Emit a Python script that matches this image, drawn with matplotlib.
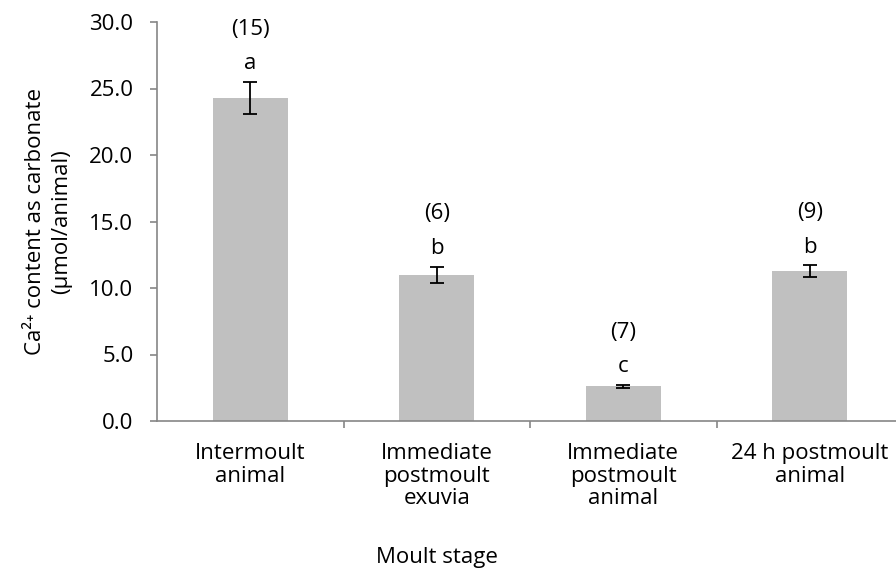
import matplotlib
matplotlib.use('Agg')
from matplotlib import pyplot as plt
import numpy as np

plt.rcParams['font.family'] = ['Open Sans', 'DejaVu Sans']

# Data
stages = ['Intermoult\nanimal', 'Immediate\npostmoult\nexuvia',
          'Immediate\npostmoult\nanimal', '24 h postmoult\nanimal']
means = [24.3, 11.0, 2.6, 11.25]
errors = [1.2, 0.6, 0.12, 0.45]
letters = ['a', 'b', 'c', 'b']
counts = ['(15)', '(6)', '(7)', '(9)']

axis_col = '#868686'
fs = 16

fig = plt.figure(figsize=(8.96, 5.71), dpi=100)
ax = fig.add_axes([157/896, 150/571, 746/896, 399/571])

x = np.arange(len(stages))
ax.bar(x, means, width=0.4, color='#c0c0c0', zorder=2)
ax.errorbar(x, means, yerr=errors, fmt='none', ecolor='black',
            elinewidth=1.3, capsize=5, capthick=1.3, zorder=3)

# group letters and sample sizes above each error bar
for xi, m, e, let, n in zip(x, means, errors, letters, counts):
    ax.annotate(let, (xi, m + e), xytext=(0, 13), textcoords='offset points',
                ha='center', va='center', fontsize=fs)
    ax.annotate(n, (xi, m + e), xytext=(0, 38), textcoords='offset points',
                ha='center', va='center', fontsize=fs)

ax.set_xlim(-0.5, 3.5)
ax.set_ylim(0, 30)
ax.set_yticks(np.arange(0, 31, 5))
ax.set_yticklabels([f'{v:.1f}' for v in np.arange(0, 31, 5)], fontsize=fs)
ax.set_xticks(x)
ax.set_xticklabels(stages, fontsize=fs, linespacing=1.1)
ax.set_xticks([0.5, 1.5, 2.5, 3.5], minor=True)
ax.tick_params(axis='x', which='major', length=0, pad=16)
ax.tick_params(axis='x', which='minor', length=5, color=axis_col, width=1.2)
ax.tick_params(axis='y', length=5, color=axis_col, width=1.2, pad=12)

for s in ['top', 'right']:
    ax.spines[s].set_visible(False)
for s in ['left', 'bottom']:
    ax.spines[s].set_color(axis_col)
    ax.spines[s].set_linewidth(1.2)

ax.set_ylabel('Ca²⁺ content as carbonate\n(µmol/animal)', fontsize=fs,
              linespacing=1.3)
ax.yaxis.set_label_coords(-0.114, 0.5, transform=ax.transAxes)
fig.text(437/896, 1 - 557/571, 'Moult stage', ha='center', va='center', fontsize=fs)

plt.savefig('out.png', dpi=100)
